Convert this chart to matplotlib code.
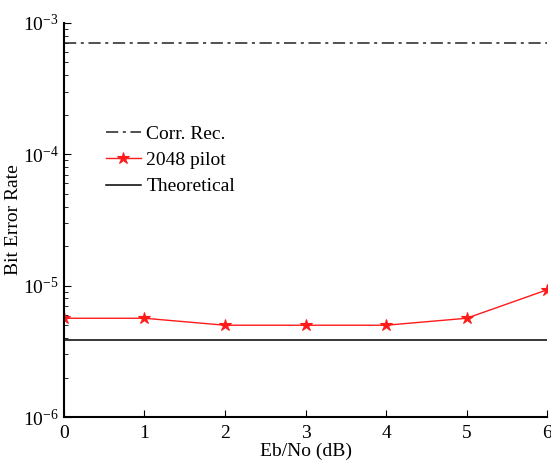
import matplotlib
matplotlib.use("Agg")
import matplotlib.pyplot as plt
import numpy as np

ebno_db = [0, 1, 2, 3, 4, 5, 6]
ber_pilot = [5.65e-6, 5.65e-6, 5.0e-6, 5.0e-6, 5.0e-6, 5.65e-6, 9.3e-6]
ber_corr = [7.0e-4] * 7
ber_theory = [3.86e-6] * 7

plt.rcParams["font.family"] = ["Liberation Serif", "DejaVu Serif"]
plt.rcParams["mathtext.fontset"] = "stix"

fig = plt.figure(figsize=(5.51, 4.65), dpi=100)
ax = fig.add_axes([0.116, 0.103, 0.877, 0.848])

ax.semilogy(ebno_db, ber_corr, linestyle="-.", color="#222222", linewidth=1.1,
            dashes=(8, 3, 2, 3), label="Corr. Rec.")
ax.semilogy(ebno_db, ber_pilot, color="#ff1a1a", linewidth=1.0, marker="*",
            markersize=9, markeredgewidth=0.8, label="2048 pilot")
ax.semilogy(ebno_db, ber_theory, color="black", linewidth=1.1, label="Theoretical")

ax.set_xlim(0, 6)
ax.set_ylim(1e-6, 1e-3)
ax.set_xticks(ebno_db)
ax.spines["top"].set_visible(False)
ax.spines["right"].set_visible(False)
ax.spines["left"].set_linewidth(1.5)
ax.spines["bottom"].set_linewidth(1.5)
ax.tick_params(which="both", direction="in", labelsize=14)
ax.tick_params(which="major", length=5)
ax.tick_params(which="minor", length=3)
ax.tick_params(axis="x", pad=6)

ax.set_xlabel("Eb/No (dB)", fontsize=14, labelpad=0)
ax.set_ylabel("Bit Error Rate", fontsize=14)
ax.yaxis.set_label_coords(-0.087, 0.5)

ax.legend(loc="upper left", bbox_to_anchor=(0.05, 0.785), frameon=False,
          fontsize=14, handlelength=1.8, handletextpad=0.3, labelspacing=0.45)

fig.savefig("out.png", dpi=100)
